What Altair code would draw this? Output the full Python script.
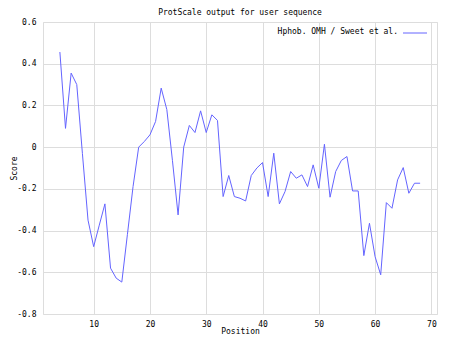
import altair as alt
import pandas as pd

positions = list(range(4, 69))
scores = [
    0.456, 0.09, 0.355, 0.30, -0.03, -0.35, -0.477, -0.374, -0.272, -0.58,
    -0.628, -0.647, -0.418, -0.189, 0.0, 0.027, 0.059, 0.123, 0.283, 0.18,
    -0.065, -0.325, 0.0, 0.104, 0.07, 0.174, 0.07, 0.155, 0.128, -0.237,
    -0.136, -0.237, -0.245, -0.258, -0.136, -0.10, -0.074, -0.237, -0.029, -0.272,
    -0.213, -0.117, -0.149, -0.133, -0.189, -0.085, -0.197, 0.014, -0.24, -0.117,
    -0.064, -0.045, -0.21, -0.21, -0.52, -0.365, -0.525, -0.612, -0.266, -0.293,
    -0.157, -0.098, -0.221, -0.173, -0.173,
]
x_ticks = [10, 20, 30, 40, 50, 60, 70]
y_ticks = [-0.8, -0.6, -0.4, -0.2, 0, 0.2, 0.4, 0.6]
series_name = "Hphob. OMH / Sweet et al."
title_text = "ProtScale output for user sequence"

FONT = "DejaVu Sans Mono"
LINE_COLOR = "#6464ff"

df = pd.DataFrame({"Position": positions, "Score": scores})

line = alt.Chart(df).mark_line(color=LINE_COLOR, strokeWidth=1).encode(
    x=alt.X("Position:Q", scale=alt.Scale(domain=[1, 71], nice=False, zero=False),
            axis=alt.Axis(values=x_ticks, title="Position", grid=True, ticks=False,
                          labelPadding=6, domain=False, labelFlush=False,
                          labelFont=FONT, labelFontSize=8, labelColor="black",
                          titleFont=FONT, titleFontSize=8, titleFontWeight="normal",
                          titleColor="black", titleY=21, titleBaseline="bottom")),
    y=alt.Y("Score:Q", scale=alt.Scale(domain=[-0.8, 0.6], nice=False, zero=False),
            axis=alt.Axis(values=y_ticks, title="Score", grid=True, ticks=False,
                          labelPadding=7, domain=False,
                          labelFont=FONT, labelFontSize=8, labelColor="black",
                          titleFont=FONT, titleFontSize=8, titleFontWeight="normal",
                          titleColor="black", titleX=-25, titleBaseline="bottom",
                          labelExpr="datum.value == 0 ? '0' : toString(round(datum.value*10)/10)")),
)

leg_df = pd.DataFrame({"a": [0]})
title_mark = alt.Chart(leg_df).mark_text(
    align="center", baseline="middle", font=FONT, fontSize=8, color="black"
).encode(x=alt.value(197), y=alt.value(-9), text=alt.value(title_text))
leg_text = alt.Chart(leg_df).mark_text(
    align="right", baseline="middle", font=FONT, fontSize=8, color="black"
).encode(x=alt.value(355), y=alt.value(10), text=alt.value(series_name))
leg_rule = alt.Chart(leg_df).mark_rule(color=LINE_COLOR, strokeWidth=1).encode(
    x=alt.value(360), x2=alt.value(384), y=alt.value(11)
)

chart = alt.layer(line, title_mark, leg_text, leg_rule).properties(
    width=394,
    height=292,
    autosize=alt.AutoSizeParams(type="none"),
    padding={"left": 35, "top": 14, "right": 4, "bottom": 22},
).configure_view(
    stroke="#222222", strokeWidth=1
).configure_axis(
    gridColor="#b4b4b4", gridOpacity=1, gridWidth=1,
).configure(background="white")

chart.save("out.html", embed_options={"renderer": "svg", "actions": False})
